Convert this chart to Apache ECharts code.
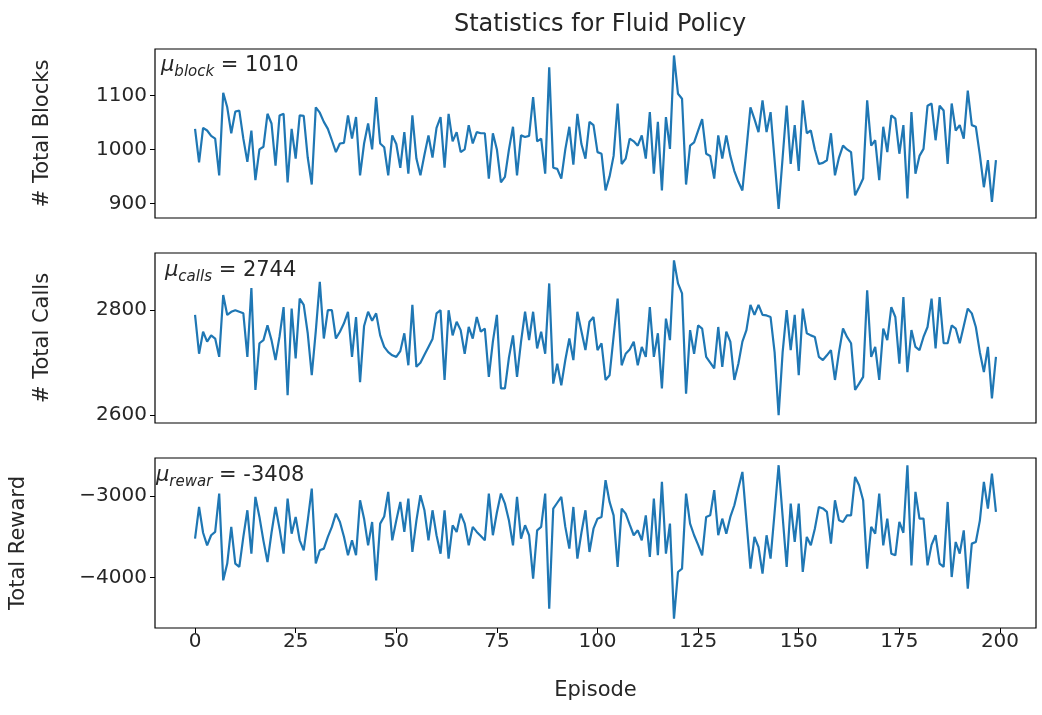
<!DOCTYPE html>
<html>
<head>
<meta charset="utf-8">
<script src="https://cdn.jsdelivr.net/npm/echarts@6/dist/echarts.min.js"></script>
<style>
  html, body { margin: 0; padding: 0; background: #fff; }
  #chart { width: 1042px; height: 715px; }
</style>
</head>
<body>
<div id="chart"></div>
<script>
// per-episode totals
var totalBlocks = [
  1038, 976, 1040, 1035, 1025, 1020, 952, 1105, 1078, 1030,
  1070, 1072, 1020, 977, 1035, 943, 1000, 1005, 1066, 1048,
  970, 1063, 1066, 939, 1038, 983, 1063, 1062, 985, 935,
  1078, 1068, 1051, 1038, 1017, 995, 1011, 1012, 1063, 1020,
  1060, 952, 1011, 1048, 1000, 1097, 1011, 1004, 952, 1026,
  1010, 966, 1032, 955, 1063, 983, 952, 990, 1026, 985,
  1040, 1060, 966, 1066, 1015, 1032, 995, 1000, 1045, 1011,
  1032, 1030, 1030, 946, 1030, 1000, 939, 949, 1000, 1042,
  952, 1026, 1023, 1025, 1097, 1015, 1020, 955, 1152, 966,
  964, 946, 1000, 1042, 972, 1066, 1010, 983, 1051, 1045,
  995, 992, 924, 950, 988, 1085, 973, 983, 1020, 1015,
  1007, 1026, 983, 1069, 955, 1051, 924, 1060, 1001, 1174,
  1103, 1094, 935, 1007, 1013, 1035, 1056, 992, 988, 946,
  1026, 983, 1026, 988, 960, 940, 924, 1000, 1078, 1056,
  1032, 1091, 1032, 1069, 980, 890, 985, 1081, 973, 1045,
  960, 1091, 1030, 1035, 1000, 973, 975, 980, 1030, 952,
  985, 1007, 1000, 995, 915, 930, 946, 1091, 1007, 1017,
  943, 1042, 995, 1063, 1057, 992, 1045, 909, 1069, 955,
  988, 1001, 1081, 1085, 1017, 1081, 1072, 973, 1085, 1035,
  1045, 1020, 1109, 1045, 1042, 990, 930, 980, 903, 980
];

var totalCalls = [
  2791, 2717, 2759, 2740, 2752, 2746, 2711, 2829, 2791, 2797,
  2800, 2797, 2794, 2711, 2842, 2648, 2737, 2743, 2771, 2743,
  2705, 2750, 2806, 2638, 2803, 2708, 2822, 2810, 2756, 2676,
  2760, 2854, 2746, 2800, 2800, 2746, 2759, 2775, 2797, 2711,
  2787, 2663, 2770, 2797, 2780, 2794, 2752, 2730, 2720, 2714,
  2711, 2722, 2756, 2695, 2810, 2692, 2700, 2715, 2730, 2745,
  2794, 2800, 2667, 2800, 2752, 2778, 2762, 2717, 2768, 2746,
  2787, 2759, 2765, 2673, 2740, 2791, 2651, 2651, 2710, 2752,
  2673, 2740, 2797, 2743, 2797, 2727, 2759, 2717, 2851, 2660,
  2698, 2657, 2705, 2746, 2705, 2797, 2760, 2724, 2778, 2787,
  2724, 2737, 2667, 2676, 2750, 2822, 2695, 2717, 2725, 2740,
  2695, 2730, 2711, 2806, 2711, 2756, 2651, 2784, 2743, 2895,
  2851, 2832, 2641, 2762, 2717, 2771, 2765, 2711, 2700, 2689,
  2768, 2692, 2759, 2740, 2667, 2698, 2740, 2762, 2810, 2791,
  2810, 2791, 2790, 2787, 2720, 2600, 2720, 2800, 2724, 2791,
  2676, 2803, 2756, 2752, 2749, 2711, 2705, 2714, 2724, 2667,
  2720, 2765, 2749, 2737, 2648, 2660, 2673, 2838, 2711, 2730,
  2667, 2765, 2743, 2806, 2787, 2698, 2825, 2682, 2762, 2730,
  2724, 2749, 2768, 2822, 2727, 2825, 2737, 2737, 2771, 2765,
  2737, 2770, 2803, 2794, 2768, 2720, 2682, 2730, 2632, 2711
];

var totalReward = [
  -3523, -3132, -3450, -3605, -3481, -3440, -2967, -4037, -3830, -3378,
  -3830, -3872, -3500, -3173, -3708, -3008, -3255, -3550, -3811, -3450,
  -3132, -3400, -3708, -3029, -3461, -3255, -3543, -3667, -3300, -2905,
  -3830, -3667, -3646, -3500, -3378, -3214, -3317, -3500, -3728, -3543,
  -3728, -3050, -3276, -3605, -3317, -4037, -3337, -3250, -2945, -3543,
  -3300, -3070, -3440, -3029, -3687, -3300, -2988, -3173, -3543, -3173,
  -3481, -3708, -3173, -3770, -3358, -3440, -3214, -3337, -3605, -3378,
  -3440, -3490, -3543, -2967, -3481, -3200, -2967, -3091, -3300, -3605,
  -3008, -3523, -3358, -3481, -4017, -3420, -3378, -2967, -4387, -3152,
  -3080, -3008, -3378, -3646, -3132, -3770, -3450, -3173, -3687, -3400,
  -3276, -3255, -2802, -3070, -3235, -3872, -3152, -3214, -3350, -3481,
  -3420, -3543, -3235, -3749, -3029, -3728, -2823, -3708, -3337, -4510,
  -3934, -3893, -2967, -3337, -3481, -3600, -3728, -3255, -3235, -2925,
  -3481, -3276, -3461, -3255, -3111, -2900, -2700, -3300, -3893, -3502,
  -3626, -3955, -3481, -3770, -3200, -2617, -3250, -3872, -3091, -3564,
  -3091, -3934, -3502, -3605, -3400, -3132, -3150, -3193, -3584, -3050,
  -3296, -3317, -3235, -3235, -2762, -2864, -3050, -3893, -3378, -3461,
  -2967, -3605, -3276, -3708, -3728, -3317, -3450, -2617, -3852, -2945,
  -3276, -3276, -3852, -3600, -3481, -3830, -3872, -3070, -3996, -3564,
  -3708, -3420, -4140, -3584, -3564, -3300, -2823, -3152, -2720, -3193
];

var xTicks = [0, 25, 50, 75, 100, 125, 150, 175, 200];
var blockTicks = [900, 1000, 1100];
var callTicks = [2600, 2800];
var rewardTicks = [-4000, -3000];

var FONT = 'DejaVu Sans';
var TXT = '#262626';
var LINE = '#1f77b4';

function pairs(arr) {
  return arr.map(function (v, i) { return [i, v]; });
}

function fmt(v) {
  return String(v).replace('-', '\u2212');
}

function yAxis(idx, name, min, max, ticks, gap) {
  return {
    type: 'value', gridIndex: idx, min: min, max: max,
    name: name, nameLocation: 'middle', nameGap: gap,
    nameTextStyle: { fontFamily: FONT, fontSize: 21, color: TXT },
    axisLine: { show: false, onZero: false },
    axisTick: { show: true, customValues: ticks, length: 5, inside: false,
      lineStyle: { color: '#000', width: 1 } },
    axisLabel: { customValues: ticks, fontFamily: FONT, fontSize: 20, color: TXT,
      margin: 8, formatter: fmt },
    splitLine: { show: false }
  };
}

function xAxis(idx, showLabels) {
  return {
    type: 'value', gridIndex: idx, min: -9.95, max: 208.95,
    name: showLabels ? 'Episode' : '', nameLocation: 'middle', nameGap: 52,
    nameTextStyle: { fontFamily: FONT, fontSize: 21, color: TXT },
    axisLine: { show: false, onZero: false },
    axisTick: { show: showLabels, customValues: xTicks, length: 5,
      lineStyle: { color: '#000', width: 1 } },
    axisLabel: { show: showLabels, customValues: xTicks, fontFamily: FONT,
      fontSize: 20, color: TXT, margin: 4 },
    splitLine: { show: false }
  };
}

function grid(top, height) {
  return { left: 155, right: 6, top: top, height: height, show: true,
    borderColor: '#000', borderWidth: 1.2, backgroundColor: 'transparent' };
}

function muLabel(left, top, sub, val) {
  return {
    type: 'text', left: left, top: top, z: 10,
    style: {
      text: '{mu|\u03bc}{sub|' + sub + '}{eq| = ' + val + '}',
      rich: {
        mu: { fontFamily: FONT, fontSize: 21, fontStyle: 'italic', fill: TXT,
          verticalAlign: 'top', lineHeight: 26 },
        sub: { fontFamily: FONT, fontSize: 15, fontStyle: 'italic', fill: TXT,
          verticalAlign: 'top', lineHeight: 18, padding: [10, 0, 0, 0] },
        eq: { fontFamily: FONT, fontSize: 21, fill: TXT,
          verticalAlign: 'top', lineHeight: 26 }
      }
    }
  };
}

var chart = echarts.init(document.getElementById('chart'), null, { renderer: 'canvas' });

chart.setOption({
  animation: false,
  backgroundColor: '#fff',
  title: {
    text: 'Statistics for Fluid Policy', left: 595, top: 8, textAlign: 'center',
    textStyle: { fontFamily: FONT, fontSize: 24, fontWeight: 'normal', color: TXT }
  },
  grid: [grid(49, 169), grid(253, 170), grid(458, 170)],
  xAxis: [xAxis(0, false), xAxis(1, false), xAxis(2, true)],
  yAxis: [
    yAxis(0, '# Total Blocks', 873, 1186, blockTicks, 102),
    yAxis(1, '# Total Calls', 2585, 2909, callTicks, 102),
    yAxis(2, 'Total Reward', -4625, -2528, rewardTicks, 126)
  ],
  series: [
    { type: 'line', xAxisIndex: 0, yAxisIndex: 0, data: pairs(totalBlocks),
      showSymbol: false, lineStyle: { color: LINE, width: 2.2 } },
    { type: 'line', xAxisIndex: 1, yAxisIndex: 1, data: pairs(totalCalls),
      showSymbol: false, lineStyle: { color: LINE, width: 2.2 } },
    { type: 'line', xAxisIndex: 2, yAxisIndex: 2, data: pairs(totalReward),
      showSymbol: false, lineStyle: { color: LINE, width: 2.2 } }
  ],
  graphic: [
    muLabel(161, 55, 'block', 1010),
    muLabel(165, 260, 'calls', 2744),
    muLabel(156, 465, 'rewar', -3408)
  ]
});
</script>
</body>
</html>
